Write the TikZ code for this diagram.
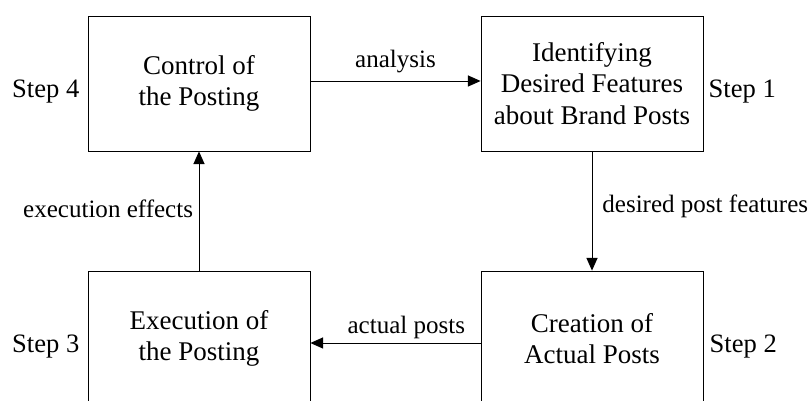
\documentclass[tikz,border=0pt]{standalone}
\usepackage{fontspec}
\setmainfont{Liberation Serif}
\usetikzlibrary{arrows.meta,positioning}

\begin{document}
\begin{tikzpicture}[
        block/.style={
            rectangle,
            draw,
            line width=0.6pt,
            align=center,
            minimum width=5.55cm,
            minimum height=3.375cm,
            font=\fontsize{19.2}{22.4}\selectfont,
            inner sep=0pt
        },
        steplabel/.style={
            inner sep=0pt,
            font=\fontsize{18.9}{22}\selectfont
        },
        flowlabel/.style={
            inner sep=0pt,
            font=\fontsize{17.8}{20}\selectfont
        },
        arrow/.style={
            -{Triangle[length=0.32cm,width=0.28cm]},
            line width=0.6pt
        }
    ]

        \useasboundingbox (0,0) rectangle (20.25,-10.025);

        \node[block] (ctrl) at (4.975,-2.0875) {Control of\\the Posting};
        \node[block] (ident) at (14.8,-2.0875) {Identifying\\Desired Features\\about Brand Posts};
        \node[block] (exec) at (4.975,-8.4625) {Execution of\\the Posting};
        \node[block] (create) at (14.8,-8.4625) {Creation of\\Actual Posts};

        \node[steplabel, left=0.2cm of ctrl, yshift=-0.21cm] (step4) {Step 4};
        \node[steplabel, right=0.125cm of ident, yshift=-0.21cm] (step1) {Step 1};
        \node[steplabel, left=0.2cm of exec, yshift=-0.21cm] (step3) {Step 3};
        \node[steplabel, right=0.15cm of create, yshift=-0.21cm] (step2) {Step 2};

        \draw[arrow] ([yshift=0.0625cm]ctrl.east) -- ([yshift=0.0625cm]ident.west)
            node[flowlabel, midway, above=0.19cm] {analysis};
        \draw[arrow] (ident.south) -- (create.north)
            node[flowlabel, midway, right=0.25cm, yshift=0.12cm] {desired post features};
        \draw[arrow] ([yshift=-0.1125cm]create.west) -- ([yshift=-0.1125cm]exec.east)
            node[flowlabel, midway, above=0.09cm, xshift=0.27cm] {actual posts};
        \draw[arrow] (exec.north) -- (ctrl.south)
            node[flowlabel, midway, left=0.14cm, yshift=0.06cm] {execution effects};

    \end{tikzpicture}
\end{document}
